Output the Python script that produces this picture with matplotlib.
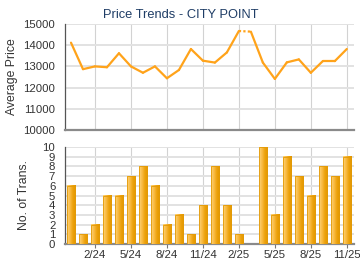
import matplotlib

matplotlib.use("Agg")

import matplotlib.pyplot as plt
import numpy as np
from matplotlib.colors import LinearSegmentedColormap

plt.rcParams["font.family"] = ["Liberation Sans", "DejaVu Sans"]

# months Dec 2023 .. Nov 2025 (index 0..23)
tick_idx = [2, 5, 8, 11, 14, 17, 20, 23]
tick_labels = ["2/24", "5/24", "8/24", "11/24", "2/25", "5/25", "8/25", "11/25"]

avg_price = [14120, 12870, 13000, 12960, 13620, 13000, 12700, 13000, 12440, 12830,
             13820, 13270, 13180, 13660, 14670, 14640, 13180, 12410, 13190, 13330,
             12700, 13250, 13250, 13820]
# months whose price is carried over (no transactions) -> dotted segment into them
carried = [15]

num_trans = [6, 1, 2, 5, 5, 7, 8, 6, 2, 3, 1, 4, 8, 4, 1, 0, 10, 3, 9, 7, 5, 8, 7, 9]

TITLE_C = "#1f3d66"
TEXT_C = "#333333"
LINE_C = "#ffa31a"

fig = plt.figure(figsize=(3.6, 2.7), dpi=100)
ax1 = fig.add_axes([65 / 360, 1 - 130 / 270, 289 / 360, 106 / 270])
ax2 = fig.add_axes([65 / 360, 1 - 244 / 270, 289 / 360, 97 / 270])

xlim = (-0.5, 23.6)
x = np.arange(len(avg_price))

# --- price line
for i in range(len(x) - 1):
    ls = (0, (1, 1)) if (i + 1) in carried else "-"
    ax1.plot(x[i:i + 2], avg_price[i:i + 2], color=LINE_C, lw=1.6, ls=ls,
             solid_capstyle="round", zorder=3)
ax1.set_xlim(*xlim)
ax1.set_ylim(10000, 15000)
ax1.set_yticks(range(10000, 15001, 1000))
ax1.set_xticks(tick_idx)
ax1.set_xticklabels([])
ax1.set_ylabel("Average Price", fontsize=8.8, color=TEXT_C, labelpad=4)
ax1.set_title("Price Trends - CITY POINT", fontsize=9.3, color=TITLE_C, pad=4,
              x=0.4)

# --- transaction bars with gradient
cmap = LinearSegmentedColormap.from_list("bar", ["#fdd47a", "#f9bb45", "#eda20c", "#e09500"])
grad = np.linspace(0, 1, 32).reshape(1, -1)
bw = 0.68
for xi, h in zip(x, num_trans):
    if h <= 0:
        continue
    ax2.imshow(grad, extent=[xi - bw / 2, xi + bw / 2, 0, h], aspect="auto",
               cmap=cmap, zorder=3, interpolation="bilinear")
    ax2.add_patch(plt.Rectangle((xi - bw / 2, 0), bw, h, fill=False,
                                edgecolor="#e39a06", lw=0.6, zorder=4))
ax2.set_xlim(*xlim)
ax2.set_ylim(0, 10)
ax2.set_yticks(range(0, 11))
ax2.set_xticks(tick_idx)
ax2.set_xticklabels(tick_labels)
ax2.set_ylabel("No. of Trans.", fontsize=8.8, color=TEXT_C, labelpad=9)

for ax in (ax1, ax2):
    ax.set_axisbelow(True)
    ax.grid(True, axis="y", color="#e2e2e2", lw=1.4)
    ax.grid(True, axis="x", color="#d2d2d2", lw=0.8)
    ax.spines["top"].set_visible(False)
    ax.spines["right"].set_visible(False)
    ax.spines["left"].set_color("#555555")
    ax.spines["left"].set_linewidth(0.9)
    ax.spines["bottom"].set_color("#8a8a8a")
    ax.spines["bottom"].set_linewidth(1.6)
    ax.tick_params(axis="y", length=0, pad=7, labelsize=8.2, labelcolor=TEXT_C)
    ax.tick_params(axis="x", labelsize=8.2, labelcolor=TEXT_C, color="#777777",
                   length=3, width=0.8, pad=1)
ax1.tick_params(axis="x", length=0)

fig.savefig("out.png", dpi=100)
